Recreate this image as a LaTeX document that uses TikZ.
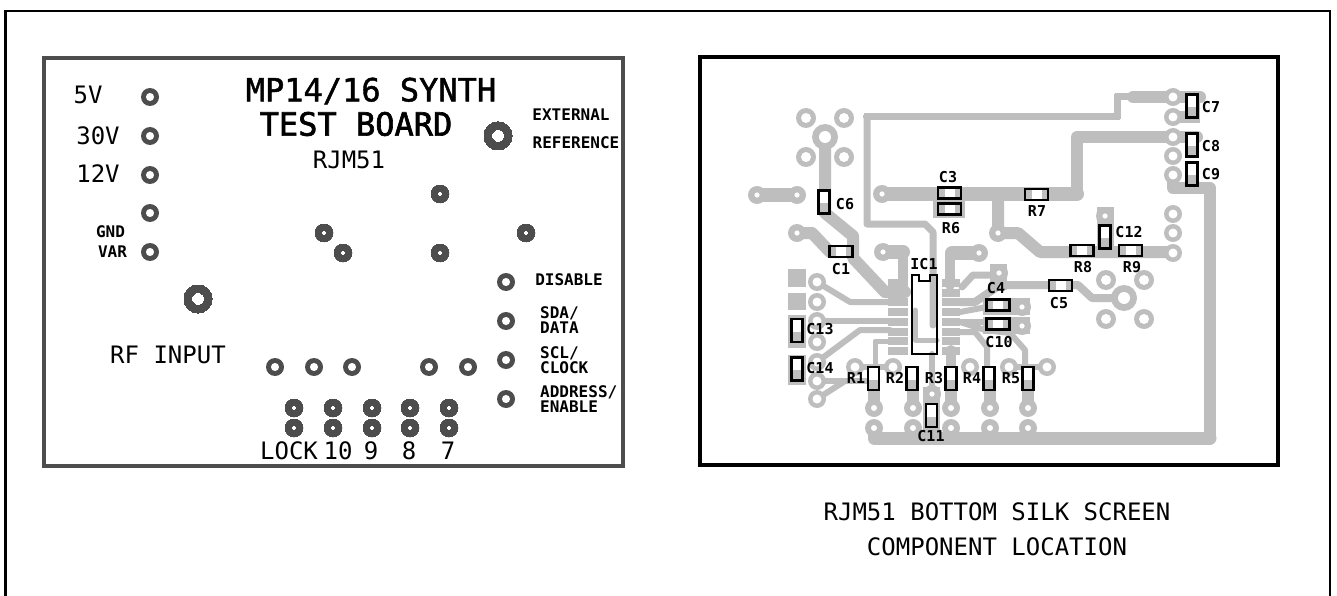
\documentclass[tikz,border=0pt]{standalone}
\usepackage{fontspec}
\setmonofont{DejaVu Sans Mono}
\newfontfamily\titlefont[FakeBold=1.4]{DejaVu Sans Mono}
\newfontfamily\subfont[FakeBold=2]{DejaVu Sans Mono}
\definecolor{tg}{HTML}{BEBEBE}
\definecolor{dk}{HTML}{4D4D4D}
\tikzset{
  lab/.style={inner sep=0pt,font=\ttfamily\fontsize{24}{24}\selectfont},
  big/.style={inner sep=0pt,font=\titlefont\fontsize{32}{32}\selectfont},
  bigb/.style={inner sep=0pt,font=\subfont\fontsize{32}{32}\selectfont},
  sml/.style={inner sep=0pt,font=\ttfamily\bfseries\fontsize{16}{16}\selectfont},
  cl/.style={inner sep=0pt,font=\ttfamily\bfseries\fontsize{15}{15}\selectfont},
  tr/.style={draw=tg,line width=#1,line cap=round,line join=round},
  tr/.default=7,
}
\newcommand\ringpad[5]{\fill[#1,even odd rule] (#2,#3) circle (#4) (#2,#3) circle (#5);}
\newcommand\hc[2]{\begin{scope}[shift={(#1,#2)}]
  \fill[tg] (-11.5,-5.5) rectangle (11.5,5.5);
  \fill[white] (-5,-5.5) rectangle (5,5.5);
  \draw[black,line width=2.4] (-11.5,-5.5) rectangle (11.5,5.5);
\end{scope}}
\newcommand\vc[2]{\begin{scope}[shift={(#1,#2)}]
  \fill[white] (-5.5,-11.5) rectangle (5.5,11.5);
  \fill[tg] (-5.5,1) rectangle (5.5,11.5);
  \draw[black,line width=2.4] (-5.5,-11.5) rectangle (5.5,11.5);
\end{scope}}
\begin{document}
\begin{tikzpicture}[x=1pt,y=-1pt]
\useasboundingbox (0,0) rectangle (1337,596);
\fill[white] (0,0) rectangle (1337,596);
% left board labels
\node[lab] (v30) at (98,136) {30V};
\node[lab] (v5) at (88,95) {5V};
\node[lab] (v12) at (98,174) {12V};
\node[sml] (gnd) at (110.5,232) {GND};
\node[sml] (var) at (112.5,252) {VAR};
\node[big] (t1) at (371,91) {MP14/16 SYNTH};
\node[bigb] (t2) at (356,124) {TEST BOARD};
\node[lab] (t3) at (349,160) {RJM51};
\node[sml] (ext) at (571,115) {EXTERNAL};
\node[sml] (ref) at (576,143) {REFERENCE};
\node[sml] (dis) at (569,280) {DISABLE};
\node[sml,anchor=west] (sda) at (540,313) {SDA/};
\node[sml,anchor=west] (data) at (540,328) {DATA};
\node[sml,anchor=west] (scl) at (540,353) {SCL/};
\node[sml,anchor=west] (clock) at (540,368) {CLOCK};
\node[sml,anchor=west] (addr) at (540,392) {ADDRESS/};
\node[sml,anchor=west] (en) at (540,407) {ENABLE};
\node[lab] (rf) at (168,355) {RF INPUT};
\node[lab] (lock) at (289,451) {LOCK};
\node[lab] (n10) at (338,451) {10};
\node[lab] (n9) at (371,451) {9};
\node[lab] (n8) at (409,451) {8};
\node[lab] (n7) at (448,451) {7};
\node[lab] (c1t) at (997,512) {RJM51 BOTTOM SILK SCREEN};
\node[lab] (c2t) at (997,547) {COMPONENT LOCATION};
% outer frame (open at the bottom)
\draw[black,line width=2.5] (5.3,596) -- (5.3,11.2) -- (1330,11.2) -- (1330,596);
% left board
\draw[dk,line width=4] (43.5,58) rectangle (622.5,466);
\foreach \x/\y in {150/97,150/136,150/175,150/213,150/252,506/282,506/321,506/360,506/399,275/367,314/367,352/367,429/367,468/367}
  \ringpad{dk}{\x}{\y}{9}{4.2}
\foreach \x/\y in {440/194,324/233,343/253,440/253,526/233,294/408,333/408,372/408,410/408,449/408,294/428,333/428,372/428,410/428,449/428}
  \ringpad{dk}{\x}{\y}{9}{2.6}
\ringpad{dk}{198}{299}{14}{6.5}
\ringpad{dk}{498}{136}{14}{6.5}
% traces
\draw[tr=7] (867,117) -- (1117,117) -- (1117,97) -- (1135,97);
\draw[tr=12] (1133,97) -- (1200,97);
\draw[tr=7] (867,117) -- (867,224) -- (925,224) -- (933,232) -- (933,325);
\draw[tr=12] (825,137) -- (825,213) -- (853,236) -- (853,258) -- (885,292) -- (905,292);
\draw[tr=14] (757,195) -- (797,195);
\draw[tr=14] (882,194) -- (1077,194);
\draw[tr=12] (1077,194) -- (1077,137) -- (1197,137);
\draw[tr=12] (797,233) -- (812,233) -- (830,252) -- (845,252);
\draw[tr=14] (883,252) -- (903,252);
\draw[tr=10] (903,252) -- (903,285) -- (895,285);
\draw[tr=14] (979,253) -- (952,253);
\draw[tr=10] (950,253) -- (950,285);
\draw[tr=12] (998,194) -- (998,233) -- (1018,233) -- (1040,252) -- (1173,252);
\draw[tr=12] (1173,175) -- (1173,188) -- (1210,188) -- (1210,438);
\draw[tr=13] (1210,438) -- (874,438) -- (874,428);
\draw[tr=8] (960,302) -- (975,302) -- (1000,285) -- (1078,285) -- (1092,298) -- (1124,298);
\fill[tg] (1097,207) rectangle (1114,252);
\fill[tg] (990,264) rectangle (1007,290);
\draw[tr=7] (998,275) -- (973,275) -- (962,287);
\fill[tg] (1187,91) rectangle (1200,123);
\fill[tg] (1170,91) rectangle (1190,103);
\fill[tg] (1170,111) rectangle (1190,123);
\fill[tg] (933,187) rectangle (965,218);
\fill[tg] (983,298) rectangle (1030,315);
\fill[tg] (983,317) rectangle (1030,334);
\fill[tg] (788,269) rectangle (806,287);
\fill[tg] (788,293) rectangle (806,310);
\fill[tg] (788,315) rectangle (806,348);
\fill[tg] (788,355) rectangle (806,385);
\fill[tg] (923,387) rectangle (940,432);
% IC traces
\draw[tr=6] (960,312) -- (987,307);
\draw[tr=6] (960,322) -- (987,322);
\draw[tr=6] (960,332) -- (975,332) -- (987,347) -- (987,370);
\draw[tr=6] (960,322) -- (985,330) -- (1010,333) -- (1025,350) -- (1025,370);
\draw[tr=6] (817,282) -- (850,302) -- (890,302);
\draw[tr=6] (817,321) -- (890,321);
\draw[tr=6] (817,362) -- (860,330) -- (890,330);
\draw[tr=6] (817,381) -- (875,381);
\draw[tr=6] (817,399) -- (845,381);
\draw[tr=5] (890,341) -- (875,341) -- (875,367);
\draw[tr=6] (1009,367) -- (1047,367);
\draw[tr=6] (855,367) -- (893,367);
\draw[tr=6] (932,354) -- (932,387);
\draw[tr=10] (951,350) -- (951,375);
\draw[tr=5] (915,310) -- (915,340) -- (937,340);
% IC pins
\foreach \y in {283,292.5,302,312,322,331.5,341,351}{
  \fill[tg] (888,\y-4) rectangle (908,\y+4);
  \fill[tg] (942,\y-4) rectangle (960,\y+4);
}
\foreach \x in {874,913,951,990,1028}{
  \draw[tr=12] (\x,372) -- (\x,408);
  \fill[tg] (\x,408) circle (9);
  \fill[tg] (\x,428) circle (9);
  \fill[white] (\x,408) circle (3);
  \fill[white] (\x,428) circle (3);
}
% ring pads
\foreach \x/\y in {806/118,844/118,806/157,844/157,1106/280,1144/280,1106/319,1144/319}
  {\fill[tg] (\x,\y) circle (10); \fill[white] (\x,\y) circle (5);}
\foreach \x/\y in {825/137,1124/298}
  {\fill[tg] (\x,\y) circle (13); \fill[white] (\x,\y) circle (6);}
\foreach \x/\y in {1173/97,1173/117,1173/137,1173/156,1173/175,1173/214,1173/233,1173/253,817/282,817/302,817/321,817/342,817/362,817/381,817/399,855/367,893/367,970/367,1009/367,1047/367}
  {\fill[tg] (\x,\y) circle (9); \fill[white] (\x,\y) circle (4.5);}
\foreach \x/\y in {757/195,797/195,882/194,797/233,883/252,979/253,998/233,1105/216,999/273,932/394,1022/307,1022/326}
  {\fill[tg] (\x,\y) circle (9); \fill[white] (\x,\y) circle (2.6);}
% components
\hc{949.5}{193}\hc{949.5}{209}\hc{1036.5}{194.5}\hc{841}{251.5}
\hc{1082}{250.5}\hc{1130.5}{250.5}\hc{1060.5}{285.5}\hc{998}{305}\hc{998}{324}
\vc{824}{202}\vc{1192}{106}\vc{1192}{145}\vc{1192}{174}\vc{1105}{237}
\vc{797}{330.5}\vc{797}{369}\vc{873.5}{378.5}\vc{912}{378.5}\vc{951}{378.5}\vc{989}{378.5}\vc{1028}{378.5}\vc{931.5}{415.5}
% IC
\draw[black,line width=2.4,line join=miter] (912,275) -- (919,275) -- (919,281) -- (930,281) -- (930,275) -- (937,275) -- (937,354) -- (912,354) -- cycle;
% right board frame
\draw[black,line width=4.5] (700,57) rectangle (1278,465);
% component labels
\foreach \n/\x/\y in {C6/845/204,C3/948/177,R6/951/228,C7/1211/107,C8/1211/146,C9/1211/174,R7/1037/211,C12/1129/232,R8/1083/267,R9/1132/267,C5/1059/303,C4/996/288,C10/999/342,C1/841/269,IC1/924/264,C13/820/329,C14/820/368,R1/856/378,R2/895/378,R3/934/378,R4/972/378,R5/1011/378,C11/931/436}
  \node[cl] (lbl\n) at (\x,\y) {\n};
\end{tikzpicture}
\end{document}
